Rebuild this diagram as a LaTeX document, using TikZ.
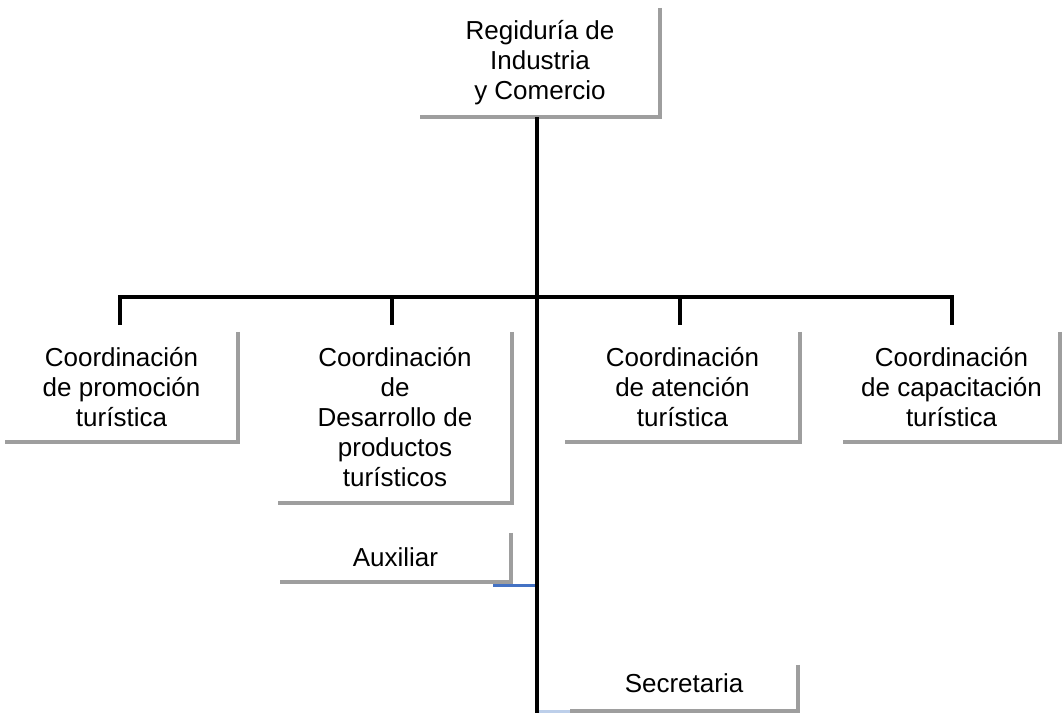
\documentclass[tikz,border=0pt]{standalone}
\usepackage{fontspec}
\setmainfont{Liberation Sans}
\usetikzlibrary{calc}
\definecolor{edgegray}{RGB}{158,158,158}
\definecolor{auxblue}{RGB}{68,114,196}
\definecolor{lightblue}{RGB}{189,207,234}
\tikzset{
  box/.style={inner sep=0pt, align=center, font=\fontsize{26}{30}\selectfont},
  edge/.style={draw=edgegray, line width=4pt, line join=miter},
  conn/.style={draw=black, line width=3.6pt},
  auxline/.style={draw=auxblue, line width=3pt},
  secline/.style={draw=lightblue, line width=3pt}
}
\begin{document}
\begin{tikzpicture}[x=1pt, y=-1pt]
\useasboundingbox[fill=white] (0,0) rectangle (1062,713);
% boxes
\node[box, minimum width=240pt, minimum height=109pt] (top) at (540,62.5) {Regiduría de\\Industria\\y Comercio};
\node[box, minimum width=233pt, minimum height=110pt] (b1) at (121.5,387) {Coordinación\\de promoción\\turística};
\node[box, minimum width=234pt, minimum height=171pt] (b2) at (395,417.5) {Coordinación\\de\\Desarrollo de\\productos\\turísticos};
\node[box, minimum width=235pt, minimum height=110pt] (b3) at (682.5,387) {Coordinación\\de atención\\turística};
\node[box, minimum width=217pt, minimum height=110pt] (b4) at (951.5,387) {Coordinación\\de capacitación\\turística};
\node[box, minimum width=231pt, minimum height=49pt] (aux) at (395.5,557.5) {Auxiliar};
\node[box, minimum width=228pt, minimum height=56pt] (sec) at (684,683) {Secretaria};
% gray L-shaped borders
\draw[edge] (top.north east) -- (top.south east) -- (top.south west);
\draw[edge] (b1.north east) -- (b1.south east) -- (b1.south west);
\draw[edge] (b2.north east) -- (b2.south east) -- (b2.south west);
\draw[edge] (b3.north east) -- (b3.south east) -- (b3.south west);
\draw[edge] (b4.north east) -- (b4.south east) -- (b4.south west);
\draw[edge] (aux.north east) -- (aux.south east) -- (aux.south west);
\draw[edge] ([yshift=-10pt]sec.north east) -- (sec.south east) -- (sec.south west);
% junction coordinates
\coordinate (jc) at (537,297);
\coordinate (j1) at (120,297);
\coordinate (j2) at (392,297);
\coordinate (j3) at (680,297);
\coordinate (j4) at (952,297);
\coordinate (tend) at (537,713);
\coordinate (ja) at (537,585);
\coordinate (js) at (537,711);
% blue connectors
\draw[auxline] (ja) -- ([xshift=-18pt]ja -| aux.east);
\draw[secline] (js) -- (js -| sec.west);
% black connectors
\draw[conn] (top.south -| jc) -- (tend);
\draw[conn, line join=miter] ([yshift=7pt]j1 |- b1.north) -- (j1) -- (j4) -- ([yshift=7pt]j4 |- b4.north);
\draw[conn] (j2) -- ([yshift=7pt]j2 |- b2.north);
\draw[conn] (j3) -- ([yshift=7pt]j3 |- b3.north);
\end{tikzpicture}
\end{document}
